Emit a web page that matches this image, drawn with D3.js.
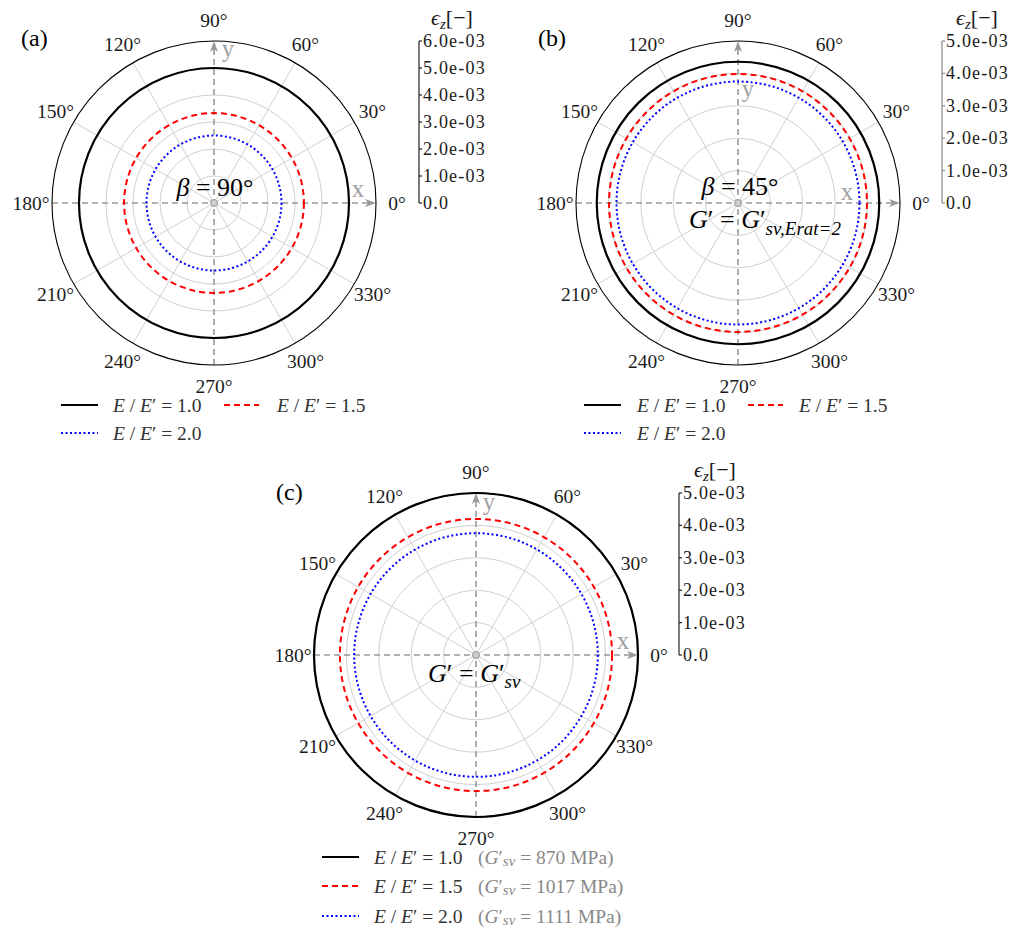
<!DOCTYPE html>
<html>
<head>
<meta charset="utf-8">
<script src="https://cdn.jsdelivr.net/npm/d3@7"></script>
<style>
  html, body { margin: 0; padding: 0; background: #fff; }
  svg { display: block; font-family: "Liberation Serif", "Times New Roman", serif; }
</style>
</head>
<body>
<svg id="chart" width="1026" height="931"></svg>
<script>
// Stiffness ratios shown in every panel
const ratioLabels = ["1.0", "1.5", "2.0"];
// Axial strain eps_z per ratio (constant over the polar angle)
const strainBeta90 = [5.0e-3, 3.33e-3, 2.5e-3];
const strainBeta45 = [4.36e-3, 3.98e-3, 3.75e-3];
const strainGsv = [5.0e-3, 4.2e-3, 3.76e-3];
// Shear modulus G'_sv per ratio (MPa), panel (c)
const gsvValues = [870, 1017, 1111];
// Polar angle ticks (degrees)
const angleTicks = [0, 30, 60, 90, 120, 150, 180, 210, 240, 270, 300, 330];
// Radial ticks
const radialTicksA = [0, 1e-3, 2e-3, 3e-3, 4e-3, 5e-3, 6e-3];
const radialTicksBC = [0, 1e-3, 2e-3, 3e-3, 4e-3, 5e-3];

const seriesStyle = [
  { color: "#000000", dash: null, width: 2.2 },
  { color: "#ff0000", dash: "6,4", width: 2 },
  { color: "#0000ff", dash: "2,2.5", width: 2 }
];

const svg = d3.select("#chart");
const AXIS_GRAY = "#999999";
const GRID_GRAY = "#d0d0d0";
const TEXT_DARK = "#1a1a1a";

function fmtStrain(v) {
  if (v === 0) return "0.0";
  const [m, e] = v.toExponential(1).split("e");
  const ev = parseInt(e, 10);
  const sign = ev < 0 ? "-" : "+";
  return m + "e" + sign + String(Math.abs(ev)).padStart(2, "0");
}

function drawPanel(cfg) {
  const g = svg.append("g");
  const r = d3.scaleLinear().domain([0, cfg.rmax]).range([0, cfg.R]);
  const px = (rad, deg) => cfg.cx + rad * Math.cos(deg * Math.PI / 180);
  const py = (rad, deg) => cfg.cy - rad * Math.sin(deg * Math.PI / 180);

  // grid circles
  g.selectAll("circle.grid").data(cfg.ticks.filter(t => t > 0 && t < cfg.rmax))
    .join("circle").attr("class", "grid")
    .attr("cx", cfg.cx).attr("cy", cfg.cy).attr("r", d => r(d))
    .attr("fill", "none").attr("stroke", GRID_GRAY).attr("stroke-width", 1);

  // spokes
  g.selectAll("line.spoke").data(angleTicks.filter(a => a % 90 !== 0))
    .join("line").attr("class", "spoke")
    .attr("x1", cfg.cx).attr("y1", cfg.cy)
    .attr("x2", d => px(cfg.R, d)).attr("y2", d => py(cfg.R, d))
    .attr("stroke", GRID_GRAY).attr("stroke-width", 1);

  // dashed cartesian axes
  g.append("line").attr("x1", px(cfg.R, 180)).attr("y1", cfg.cy)
    .attr("x2", px(cfg.R - 8, 0)).attr("y2", cfg.cy)
    .attr("stroke", AXIS_GRAY).attr("stroke-width", 1.6).attr("stroke-dasharray", "6,4");
  g.append("line").attr("x1", cfg.cx).attr("y1", py(cfg.R, 270))
    .attr("x2", cfg.cx).attr("y2", py(cfg.R - 8, 90))
    .attr("stroke", AXIS_GRAY).attr("stroke-width", 1.6).attr("stroke-dasharray", "6,4");
  // arrow heads
  const ex = px(cfg.R, 0), ey = cfg.cy;
  g.append("path").attr("d", `M${ex},${ey} L${ex - 11},${ey - 4} L${ex - 8},${ey} L${ex - 11},${ey + 4} Z`)
    .attr("fill", AXIS_GRAY);
  const tx = cfg.cx, ty = py(cfg.R, 90);
  g.append("path").attr("d", `M${tx},${ty} L${tx - 4},${ty + 11} L${tx},${ty + 8} L${tx + 4},${ty + 11} Z`)
    .attr("fill", AXIS_GRAY);
  g.append("text").attr("x", cfg.xLab[0]).attr("y", cfg.xLab[1])
    .attr("text-anchor", "middle").attr("font-size", 25).attr("fill", "#a0a0a0").text("x");
  g.append("text").attr("x", cfg.yLab[0]).attr("y", cfg.yLab[1])
    .attr("text-anchor", "middle").attr("font-size", 25).attr("fill", "#a0a0a0").text("y");

  // data curves (constant strain over angle)
  g.selectAll("circle.series").data(cfg.values)
    .join("circle").attr("class", "series")
    .attr("cx", cfg.cx).attr("cy", cfg.cy).attr("r", d => r(d))
    .attr("fill", "none")
    .attr("stroke", (d, i) => seriesStyle[i].color)
    .attr("stroke-width", (d, i) => seriesStyle[i].width)
    .attr("stroke-dasharray", (d, i) => seriesStyle[i].dash);

  // outer frame
  g.append("circle").attr("cx", cfg.cx).attr("cy", cfg.cy).attr("r", cfg.R)
    .attr("fill", "none").attr("stroke", "#000").attr("stroke-width", 1.1);

  // origin marker
  g.append("circle").attr("cx", cfg.cx).attr("cy", cfg.cy).attr("r", 3.5)
    .attr("fill", "#cccccc").attr("stroke", "#999").attr("stroke-width", 1);

  // angle labels
  g.selectAll("text.ang").data(angleTicks).join("text").attr("class", "ang")
    .attr("x", d => px(cfg.R + 21, d)).attr("y", d => py(cfg.R + 21, d))
    .attr("text-anchor", "middle").attr("dominant-baseline", "central")
    .attr("font-size", 19.5).attr("fill", TEXT_DARK)
    .text(d => d + "°");

  // radial axis drawn on the side
  const ax = g.append("g").attr("transform", `translate(${cfg.axisX},${cfg.cy})`);
  const yAx = d3.scaleLinear().domain([0, cfg.rmax]).range([0, -cfg.R]);
  ax.append("line").attr("x1", 0).attr("x2", 0).attr("y1", yAx(0)).attr("y2", yAx(cfg.rmax))
    .attr("stroke", cfg.axisColor).attr("stroke-width", 1.2);
  ax.selectAll("line.tk").data(cfg.ticks).join("line").attr("class", "tk")
    .attr("x1", 0).attr("x2", 3).attr("y1", d => yAx(d)).attr("y2", d => yAx(d))
    .attr("stroke", cfg.axisColor).attr("stroke-width", 1.2);
  ax.selectAll("text.tl").data(cfg.ticks).join("text").attr("class", "tl")
    .attr("x", 4).attr("y", d => yAx(d)).attr("dominant-baseline", "central")
    .attr("font-size", 18).attr("letter-spacing", 1.2)
    .attr("fill", TEXT_DARK).text(d => fmtStrain(d));
  const ttl = g.append("text").attr("x", cfg.title[0]).attr("y", cfg.title[1])
    .attr("text-anchor", "middle").attr("font-size", 22).attr("fill", TEXT_DARK);
  ttl.append("tspan").attr("font-style", "italic").text("ϵ");
  ttl.append("tspan").attr("font-style", "italic").attr("font-size", 15).attr("dy", 4).text("z");
  ttl.append("tspan").attr("dy", -4).text("[−]");

  // panel tag
  g.append("text").attr("x", cfg.tag[0]).attr("y", cfg.tag[1])
    .attr("font-size", 24).attr("fill", "#000").text(cfg.tagText);

  return g;
}

function legendLine(g, x1, x2, y, i) {
  g.append("line").attr("x1", x1).attr("x2", x2).attr("y1", y).attr("y2", y)
    .attr("stroke", seriesStyle[i].color).attr("stroke-width", seriesStyle[i].width)
    .attr("stroke-dasharray", seriesStyle[i].dash);
}
function ratioText(g, x, y, i) {
  const t = g.append("text").attr("x", x).attr("y", y).attr("dominant-baseline", "central")
    .attr("font-size", 19.5).attr("fill", "#333");
  t.append("tspan").attr("font-style", "italic").text("E");
  t.append("tspan").text(" / ");
  t.append("tspan").attr("font-style", "italic").text("E");
  t.append("tspan").text("′ = " + ratioLabels[i]);
  return t;
}

// Panel (a)
const gA = drawPanel({
  cx: 214, cy: 203, R: 162, rmax: 6e-3, ticks: radialTicksA, values: strainBeta90,
  axisX: 419, axisColor: "#222", title: [452, 25], tag: [21, 46], tagText: "(a)",
  xLab: [358, 197], yLab: [228, 57]
});
{
  const t = gA.append("text").attr("x", 215).attr("y", 196).attr("text-anchor", "middle")
    .attr("font-size", 26).attr("fill", "#000");
  t.append("tspan").attr("font-style", "italic").text("β");
  t.append("tspan").text(" = 90°");
  legendLine(gA, 61, 98, 405, 0); ratioText(gA, 113, 405, 0);
  legendLine(gA, 224, 259, 405, 1); ratioText(gA, 277, 405, 1);
  legendLine(gA, 61, 98, 433, 2); ratioText(gA, 113, 433, 2);
}

// Panel (b)
const gB = drawPanel({
  cx: 738, cy: 203, R: 162, rmax: 5e-3, ticks: radialTicksBC, values: strainBeta45,
  axisX: 942, axisColor: "#888", title: [977, 25], tag: [538, 46], tagText: "(b)",
  xLab: [847, 200], yLab: [748, 97]
});
{
  const t = gB.append("text").attr("x", 740).attr("y", 195).attr("text-anchor", "middle")
    .attr("font-size", 26).attr("fill", "#000");
  t.append("tspan").attr("font-style", "italic").text("β");
  t.append("tspan").text(" = 45°");
  const t2 = gB.append("text").attr("x", 689).attr("y", 228)
    .attr("font-size", 26).attr("fill", "#000");
  t2.append("tspan").attr("font-style", "italic").text("G");
  t2.append("tspan").text("′ = ");
  t2.append("tspan").attr("font-style", "italic").text("G");
  t2.append("tspan").text("′");
  t2.append("tspan").attr("font-style", "italic").attr("font-size", 19).attr("dy", 7).text("sv,Erat=2");
  legendLine(gB, 584, 621, 405, 0); ratioText(gB, 637, 405, 0);
  legendLine(gB, 748, 783, 405, 1); ratioText(gB, 799, 405, 1);
  legendLine(gB, 584, 621, 433, 2); ratioText(gB, 637, 433, 2);
}

// Panel (c)
const gC = drawPanel({
  cx: 476, cy: 655, R: 162, rmax: 5e-3, ticks: radialTicksBC, values: strainGsv,
  axisX: 679, axisColor: "#222", title: [715, 477], tag: [276, 500], tagText: "(c)",
  xLab: [623, 649], yLab: [489, 510]
});
{
  const t2 = gC.append("text").attr("x", 428).attr("y", 682)
    .attr("font-size", 26).attr("fill", "#000");
  t2.append("tspan").attr("font-style", "italic").text("G");
  t2.append("tspan").text("′ = ");
  t2.append("tspan").attr("font-style", "italic").text("G");
  t2.append("tspan").text("′");
  t2.append("tspan").attr("font-style", "italic").attr("font-size", 19).attr("dy", 6).text("sv");
  const rows = [857, 886, 916];
  rows.forEach((y, i) => {
    legendLine(gC, 322, 359, y, i);
    ratioText(gC, 374, y, i);
    const gt = gC.append("text").attr("x", 478).attr("y", y).attr("dominant-baseline", "central")
      .attr("font-size", 19.5).attr("fill", "#888");
    gt.append("tspan").text("(");
    gt.append("tspan").attr("font-style", "italic").text("G");
    gt.append("tspan").text("′");
    gt.append("tspan").attr("font-style", "italic").attr("font-size", 15).attr("dy", 4).text("sv");
    gt.append("tspan").attr("dy", -4).text(" = " + gsvValues[i] + " MPa)");
  });
}
</script>
</body>
</html>
